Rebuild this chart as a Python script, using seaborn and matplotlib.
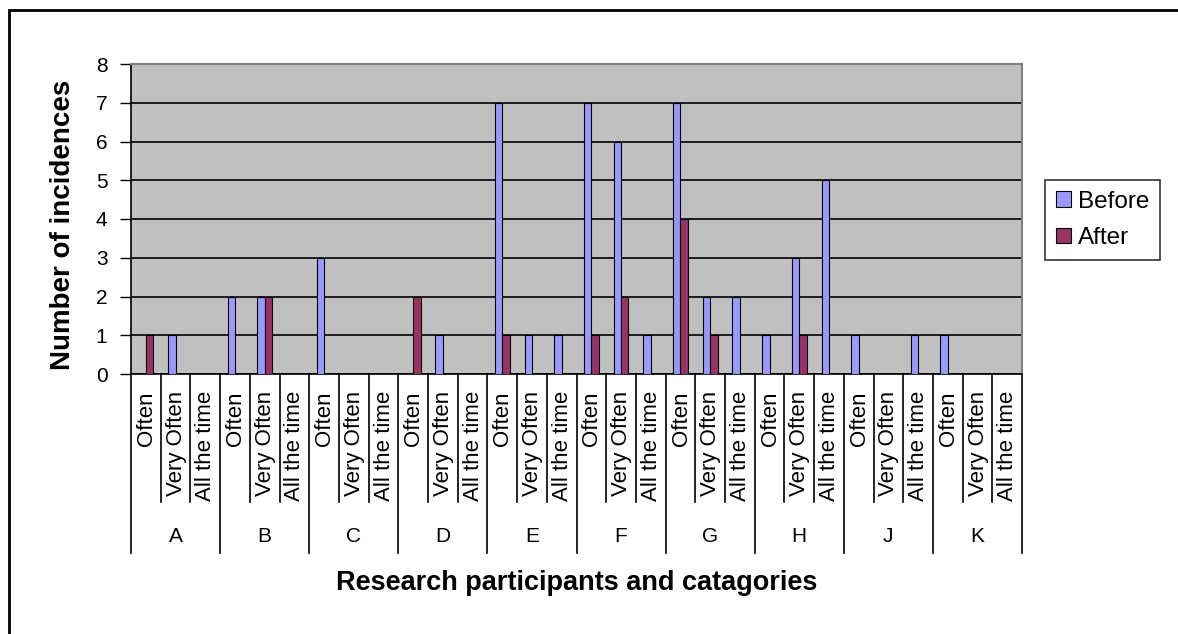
import pandas as pd
import matplotlib.pyplot as plt
import matplotlib.patches as mpatches
import seaborn as sns

participants = ['A', 'B', 'C', 'D', 'E', 'F', 'G', 'H', 'J', 'K']
levels = ['Often', 'Very Often', 'All the time']
before = [0, 1, 0, 2, 2, 0, 3, 0, 0, 0, 1, 0, 7, 1, 1,
          7, 6, 1, 7, 2, 2, 1, 3, 5, 1, 0, 1, 1, 0, 0]
after = [1, 0, 0, 0, 2, 0, 0, 0, 0, 2, 0, 0, 1, 0, 0,
         1, 2, 0, 4, 1, 0, 0, 1, 0, 0, 0, 0, 0, 0, 0]
series = ['Before', 'After']
colors = ['#9999FF', '#993366']

# Long-form table: one row per (slot, series)
slots = [p + '|' + l for p in participants for l in levels]
df = pd.DataFrame({
    'slot': slots * 2,
    'count': before + after,
    'when': ['Before'] * len(slots) + ['After'] * len(slots),
})

plt.rcParams['font.family'] = ['Liberation Sans', 'DejaVu Sans']

W, H = 1178, 634
fig = plt.figure(figsize=(W / 100, H / 100), dpi=100)
ax = fig.add_axes([131 / W, 1 - 374 / H, 891 / W, 310 / H])
ax.set_facecolor('#C0C0C0')

sns.barplot(data=df, x='slot', y='count', hue='when', order=slots,
            hue_order=series, palette=colors, width=0.5,
            edgecolor='black', linewidth=0.8, saturation=1, ax=ax,
            legend=True, zorder=3)

ax.set_xlim(-0.5, len(slots) - 0.5)
ax.set_ylim(0, 8)
ax.set_yticks(range(0, 9))
ax.grid(axis='y', color='black', linewidth=1.2, zorder=1)
ax.set_axisbelow(True)
ax.tick_params(axis='y', direction='out', length=8, width=1, pad=9,
               labelsize=15, colors='black')
ax.tick_params(axis='x', length=0, labelbottom=False)
for s in ['left', 'bottom']:
    ax.spines[s].set_color('black')
    ax.spines[s].set_linewidth(1.2)
for s in ['top', 'right']:
    ax.spines[s].set_color('#808080')
    ax.spines[s].set_linewidth(1.5)

# multi-level category axis
trans = ax.get_xaxis_transform()
short_y = -(502 - 374) / 310
long_y = -(553 - 374) / 310
for b in range(len(slots) + 1):
    y_end = long_y if b % 3 == 0 else short_y
    ax.plot([b - 0.5, b - 0.5], [0, y_end], color='black', lw=1.2,
            transform=trans, clip_on=False)
for i, s in enumerate(slots):
    ax.text(i + 0.02, -(391 - 374) / 310, s.split('|')[1], rotation=90,
            ha='center', va='top', fontsize=16, transform=trans)
for g, p in enumerate(participants):
    ax.text(g * 3 + 1, -(537 - 374) / 310, p, ha='center', va='center',
            fontsize=15, transform=trans)

ax.set_xlabel('Research participants and catagories', fontsize=19.5,
              fontweight='bold', va='center')
ax.xaxis.set_label_coords(0.5, -(583 - 374) / 310)
ax.set_ylabel('Number of incidences', fontsize=20, fontweight='bold',
              va='center')
ax.yaxis.set_label_coords(-(131 - 63) / 891, 0.48)

leg = ax.legend(loc='center left', bbox_to_anchor=(1045 / W, 1 - 220 / H),
                bbox_transform=fig.transFigure, fontsize=17.5, frameon=True,
                fancybox=False, edgecolor='black', handlelength=0.6,
                handleheight=0.6, handletextpad=0.3, borderpad=0.45,
                labelspacing=0.6, borderaxespad=0)
leg.get_frame().set_linewidth(1.2)
leg.set_title(None)

# chart area border (top and left visible)
fig.add_artist(mpatches.Rectangle((9 / W, -0.5), 2, 1.5 - 10 / H,
                                  transform=fig.transFigure, fill=False,
                                  edgecolor='black', linewidth=2))

fig.savefig('out.png', dpi=100)
